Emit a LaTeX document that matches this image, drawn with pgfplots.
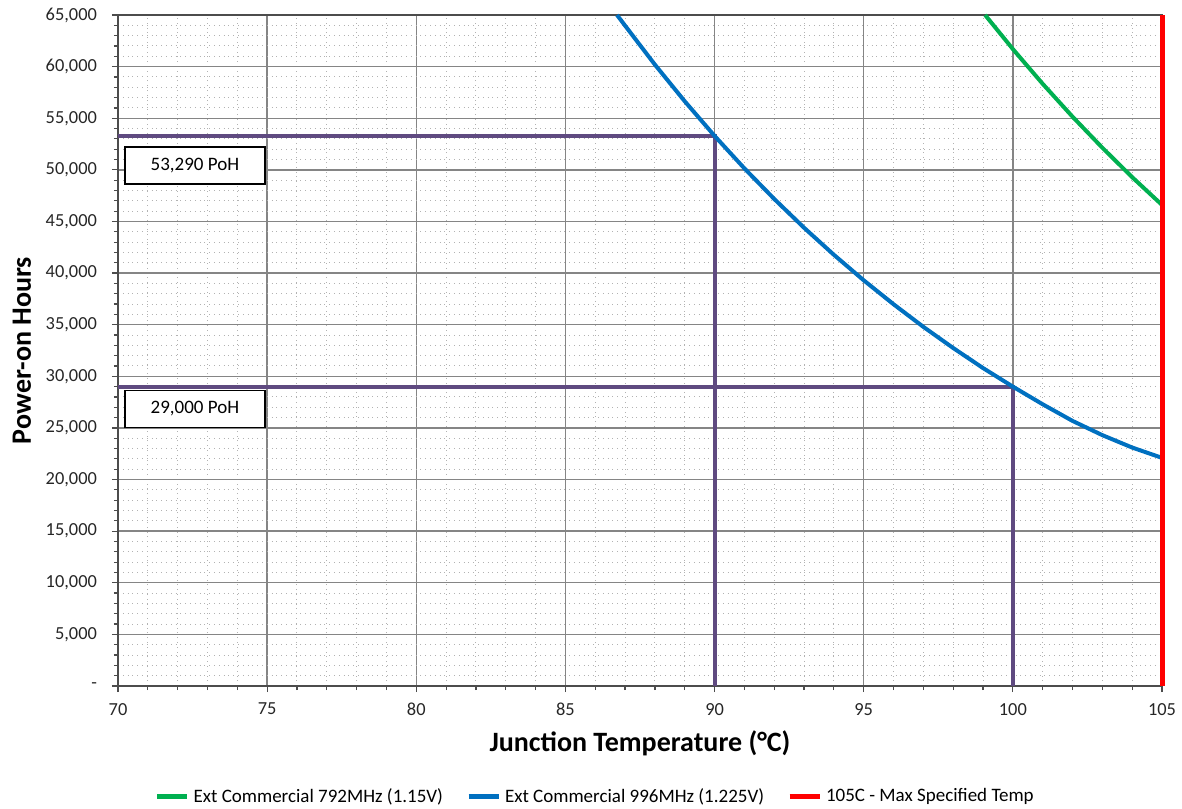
\documentclass[border=0pt]{standalone}
\usepackage{pgfplots}
\pgfplotsset{compat=1.18}
\usepackage{fontspec}
\setmainfont{Carlito}

\definecolor{gcurve}{HTML}{00B050}
\definecolor{bcurve}{HTML}{0070C0}
\definecolor{rline}{HTML}{FF0000}
\definecolor{guide}{HTML}{5F4A80}
\definecolor{ticktext}{HTML}{262626}

\begin{document}
\begin{tikzpicture}
\useasboundingbox (-59pt,-61pt) rectangle (532pt,343pt);
\begin{axis}[
  at={(0,0)}, anchor=south west,
  scale only axis,
  width=522pt, height=335.5pt,
  xmin=70, xmax=105, ymin=0, ymax=65000,
  xtick={70,75,...,105},
  ytick={0,5000,...,65000},
  yticklabels={{-},{5,000},{10,000},{15,000},{20,000},{25,000},{30,000},{35,000},{40,000},{45,000},{50,000},{55,000},{60,000},{65,000}},
  minor x tick num=4, minor y tick num=4,
  scaled y ticks=false,
  grid=both,
  major grid style={draw=black!48, line width=0.7pt},
  minor grid style={draw=black!30, dotted, line width=0.5pt},
  axis line style={draw=black!70, line width=0.7pt},
  tick style={draw=black!70, line width=0.6pt},
  tick align=outside,
  major tick length=3pt, minor tick length=2pt,
  xtick pos=left, ytick pos=left,
  /pgf/number format/assume math mode=true,
  ticklabel style={font=\fontsize{9.2}{10}\selectfont, text=ticktext},
  xticklabel style={yshift=-2pt},
  yticklabel style={xshift=-4pt},
  xlabel={Junction Temperature (°C)},
  ylabel={Power-on Hours},
  xlabel style={at={(axis description cs:0.5,-0.085)}, anchor=center,
    font=\bfseries\fontsize{14}{16}\selectfont},
  ylabel style={at={(axis description cs:-0.092,0.5)}, anchor=center, rotate=0,
    font=\bfseries\fontsize{14}{16}\selectfont},
  clip=false,
  legend style={at={(axis description cs:0.458,-0.165)}, anchor=center,
    draw=none, fill=none, font=\fontsize{9.5}{11}\selectfont,
    /tikz/every even column/.append style={column sep=9.5pt},
    /tikz/column 4/.append style={column sep=21pt}},
  legend columns=3,
  legend image code/.code={\draw[#1, line width=2.5pt] (0pt,0pt) -- (15pt,0pt);},
]
% guide lines for the two read-outs
\addplot[guide, line width=2pt, forget plot] coordinates {(70,53290) (90,53290) (90,0)};
\addplot[guide, line width=2pt, forget plot] coordinates {(70,29000) (100,29000) (100,0)};

% lifetime curves
\addplot[gcurve, line width=2pt] coordinates {
  (99.07,65000) (100,61700) (101,58330) (102,55150) (103,52140) (104,49290) (105,46600)
};
\addlegendentry{Ext Commercial 792MHz (1.15V)}
\addplot[bcurve, line width=2pt] coordinates {
  (86.73,65000) (87,63970) (88,60190) (89,56640) (90,53290) (91,50140) (92,47180)
  (93,44390) (94,41770) (95,39300) (96,36980) (97,34790) (98,32740) (99,30800)
  (100,29000) (101,27290) (102,25680) (103,24300) (104,23100) (105,22100)
};
\addlegendentry{Ext Commercial 996MHz (1.225V)}
\addplot[rline, line width=2.5pt] coordinates {(105,0) (105,65000)};
\addlegendentry{105C - Max Specified Temp}

\node[draw=black, line width=0.8pt, fill=white, minimum width=70pt, minimum height=18.5pt,
  font=\fontsize{9.5}{11}\selectfont] at (axis cs:72.58,50440) {53,290 PoH};
\node[draw=black, line width=0.8pt, fill=white, minimum width=70pt, minimum height=18.5pt,
  font=\fontsize{9.5}{11}\selectfont] at (axis cs:72.58,26840) {29,000 PoH};
\end{axis}
\end{tikzpicture}
\end{document}
